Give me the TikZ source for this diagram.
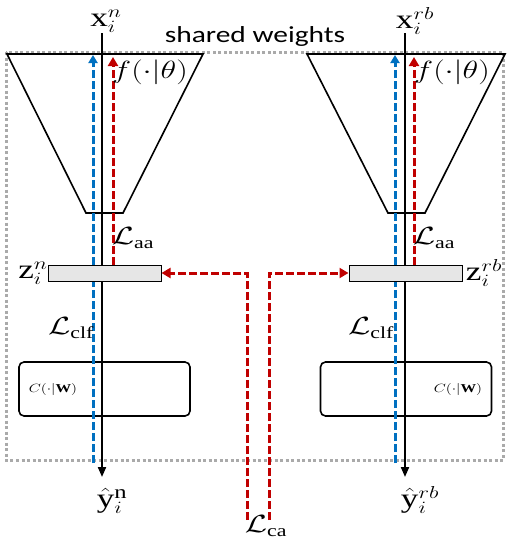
\documentclass[tikz,border=0pt]{standalone}
\usepackage{fontspec}
\setmainfont{Liberation Serif}
\newfontfamily\sharedfont{Carlito}
\usetikzlibrary{arrows.meta,positioning,calc}
\definecolor{SwRed}{RGB}{192,0,0}
\definecolor{SwBlue}{RGB}{0,112,192}
\definecolor{SwDot}{RGB}{170,170,170}
\definecolor{SwFill}{RGB}{230,230,230}
\tikzset{
  sw/net/.style={draw=black, line width=1.6pt, line join=miter},
  sw/code/.style={
    draw=black,
    line width=1pt,
    fill=SwFill,
    minimum width=113pt,
    minimum height=16pt,
    inner sep=0pt
  },
  sw/head/.style={
    draw=black,
    line width=1.6pt,
    rounded corners=5pt,
    minimum width=171pt,
    minimum height=54pt,
    inner sep=0pt
  },
  sw/axis/.style={-{Triangle[length=10pt,width=8pt]}, line width=2pt, draw=black},
  sw/blue/.style={-{Triangle[length=8pt,width=9pt]}, line width=3pt, draw=SwBlue, dash pattern=on 8pt off 3pt},
  sw/red/.style={-{Triangle[length=9pt,width=10pt]}, line width=3pt, draw=SwRed, dash pattern=on 8pt off 3pt},
  sw/shared/.style={draw=SwDot, line width=3pt, dash pattern=on 3pt off 2.5pt},
  sw/math/.style={font=\fontsize{24}{28}\selectfont, xscale=1.3, inner sep=0pt},
  sw/var/.style={font=\fontsize{27}{31}\selectfont, xscale=1.3, inner sep=0pt},
  sw/small/.style={font=\fontsize{12}{14}\selectfont, xscale=1.3, inner sep=0pt},
  sw/title/.style={font=\sharedfont\fontsize{23}{27}\selectfont, xscale=1.28, inner sep=0pt}
}
\begin{document}
\begin{tikzpicture}[x=1pt,y=-1pt]
  \useasboundingbox (0,0) rectangle (515,546);
  % shared weights frame
  \draw[sw/shared] (6,52) rectangle (503,460);
  \node[sw/title] (shared) at (255,36) {shared weights};
  % encoders
  \draw[sw/net] (7,54) -- (203,54) -- (123,213) -- (86,213) -- cycle;
  \draw[sw/net] (307,54) -- (505,54) -- (425,213) -- (388,213) -- cycle;
  % classifiers
  \node[sw/head] (cn) at (104.5,389) {};
  \node[sw/head] (crb) at (406,389) {};
  % feature codes
  \node[sw/code] (zn) at (104.5,273) {};
  \node[sw/code] (zrb) at (405.5,273) {};
  % end points
  \coordinate (inn) at (102,33);
  \coordinate (outn) at (102,477);
  \coordinate (inrb) at (405,33);
  \coordinate (outrb) at (405,477);
  \coordinate (bn) at (93,55);
  \coordinate (brb) at (395,55);
  \coordinate (rn) at (113,57);
  \coordinate (rrb) at (414,57);
  \coordinate (can) at (247,520);
  \coordinate (carb) at (269,520);
  % flows
  \draw[sw/axis] (inn) -- (outn);
  \draw[sw/axis] (inrb) -- (outrb);
  \draw[sw/blue] (bn |- 0,463) -- (bn);
  \draw[sw/blue] (brb |- 0,463) -- (brb);
  \draw[sw/red] (zn.north -| rn) -- (rn);
  \draw[sw/red] (zrb.north -| rrb) -- (rrb);
  \draw[sw/red] (can) |- (zn.east);
  \draw[sw/red] (carb) |- (zrb.west);
  \node[sw/code] at (zn) {};
  \node[sw/code] at (zrb) {};
  % labels
  \node[sw/var] (xn) at (106,21) {$\mathrm{x}_i^{n}$};
  \node[sw/var] (xrb) at (415,21) {$\mathrm{x}_i^{rb}$};
  \node[sw/math] (fn) at (150,72) {$f(\cdot|\theta)$};
  \node[sw/math] (frb) at (452,72) {$f(\cdot|\theta)$};
  \node[sw/math] (aan) at (133,238) {$\mathcal{L}_{\mathrm{aa}}$};
  \node[sw/math] (aarb) at (434,238) {$\mathcal{L}_{\mathrm{aa}}$};
  \node[sw/var] (zln) at (33,273) {$\mathrm{z}_i^{n}$};
  \node[sw/var] (zlrb) at (484,273) {$\mathrm{z}_i^{rb}$};
  \node[sw/math] (clfn) at (71,328) {$\mathcal{L}_{\mathrm{clf}}$};
  \node[sw/math] (clfrb) at (371,328) {$\mathcal{L}_{\mathrm{clf}}$};
  \node[sw/small] (wn) at (53,389) {$C(\cdot|\mathbf{W})$};
  \node[sw/small] (wrb) at (458,389) {$C(\cdot|\mathbf{W})$};
  \node[sw/var] (yn) at (112,501) {$\hat{\mathrm{y}}_i^{\mathrm{n}}$};
  \node[sw/var] (yrb) at (420,500) {$\hat{\mathrm{y}}_i^{rb}$};
  \node[sw/math] (lca) at (266,526) {$\mathcal{L}_{\mathrm{ca}}$};
\end{tikzpicture}
\end{document}
